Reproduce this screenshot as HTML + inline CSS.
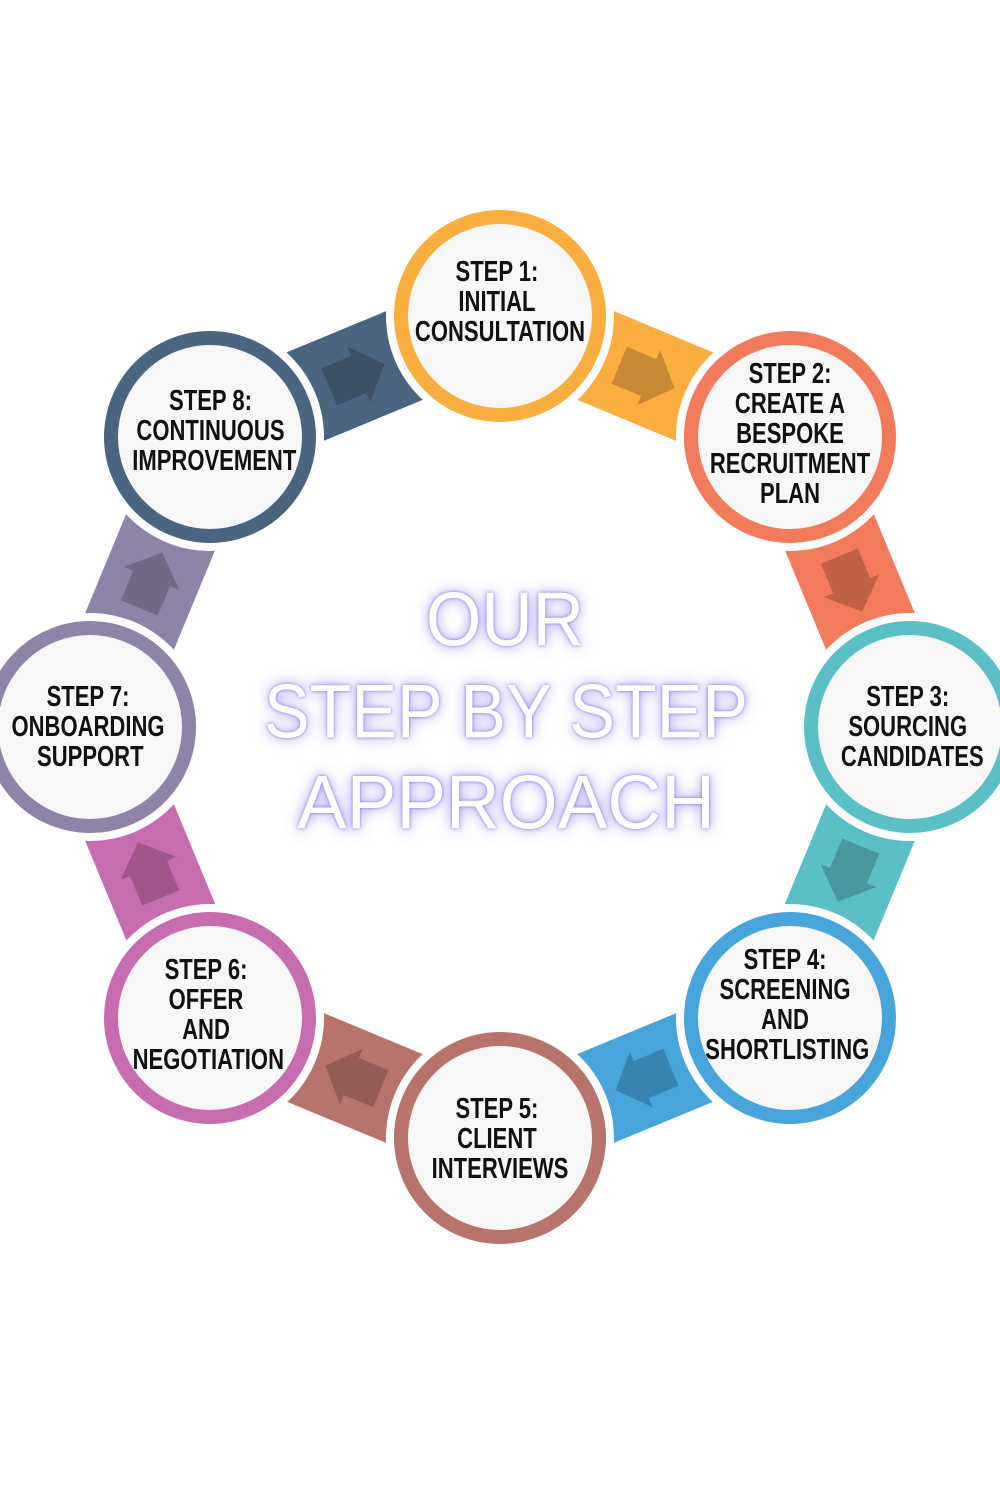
<!DOCTYPE html>
<html><head><meta charset="utf-8"><style>
html,body{margin:0;padding:0;background:#fff;width:1000px;height:1500px;overflow:hidden}
svg{display:block}
.t{font-family:"Liberation Sans",sans-serif;font-weight:bold;font-size:29px;fill:#111;text-anchor:middle;dominant-baseline:central}
.h{font-family:"Liberation Sans","DejaVu Sans",sans-serif;font-weight:normal;font-size:76px;fill:#fff;text-anchor:middle;dominant-baseline:central}
</style></head><body>
<svg width="1000" height="1500" viewBox="0 0 1000 1500" xmlns="http://www.w3.org/2000/svg">
<defs>
<filter id="glow" x="-20%" y="-40%" width="140%" height="180%">
<feGaussianBlur in="SourceAlpha" stdDeviation="7" result="b"/>
<feFlood flood-color="#7b6cf0" flood-opacity="0.75"/>
<feComposite in2="b" operator="in" result="g"/>
<feGaussianBlur in="SourceAlpha" stdDeviation="1.5" result="b2"/>
<feFlood flood-color="#6a5ae8" flood-opacity="0.9"/>
<feComposite in2="b2" operator="in" result="g2"/>
<feMerge><feMergeNode in="g"/><feMergeNode in="g2"/><feMergeNode in="SourceGraphic"/></feMerge>
</filter>
<g id="arr"><polygon points="-28,-20 4,-20 4,-30 32,0 4,30 4,20 -28,20" fill="#000" fill-opacity="0.2"/></g>
</defs>

<g transform="translate(645,376) rotate(22.6)"><rect x="-150" y="-48" width="300" height="96" fill="#FBAE40"/><use href="#arr"/></g>
<g transform="translate(850,582) rotate(67.5)"><rect x="-150" y="-48" width="300" height="96" fill="#F27B5B"/><use href="#arr"/></g>
<g transform="translate(850,872) rotate(112.5)"><rect x="-150" y="-48" width="300" height="96" fill="#5BBFC6"/><use href="#arr"/></g>
<g transform="translate(645,1078) rotate(157.5)"><rect x="-150" y="-48" width="300" height="96" fill="#47A5DC"/><use href="#arr"/></g>
<g transform="translate(355,1078) rotate(202.5)"><rect x="-150" y="-48" width="300" height="96" fill="#B8736D"/><use href="#arr"/></g>
<g transform="translate(150,872) rotate(247.5)"><rect x="-150" y="-48" width="300" height="96" fill="#C76CAE"/><use href="#arr"/></g>
<g transform="translate(150,582) rotate(292.5)"><rect x="-150" y="-48" width="300" height="96" fill="#8E84A8"/><use href="#arr"/></g>
<g transform="translate(355,376) rotate(337.5)"><rect x="-150" y="-48" width="300" height="96" fill="#4B6480"/><use href="#arr"/></g>

<g stroke-width="14">
<circle cx="500" cy="316" r="114" fill="#fff" stroke="none"/><circle cx="500" cy="316" r="99" fill="#f7f7f7" stroke="#FBAE40"/>
<circle cx="790" cy="437" r="114" fill="#fff" stroke="none"/><circle cx="790" cy="437" r="99" fill="#f7f7f7" stroke="#F27B5B"/>
<circle cx="910" cy="727" r="114" fill="#fff" stroke="none"/><circle cx="910" cy="727" r="99" fill="#f7f7f7" stroke="#5BBFC6"/>
<circle cx="790" cy="1018" r="114" fill="#fff" stroke="none"/><circle cx="790" cy="1018" r="99" fill="#f7f7f7" stroke="#47A5DC"/>
<circle cx="500" cy="1138" r="114" fill="#fff" stroke="none"/><circle cx="500" cy="1138" r="99" fill="#f7f7f7" stroke="#B8736D"/>
<circle cx="210" cy="1018" r="114" fill="#fff" stroke="none"/><circle cx="210" cy="1018" r="99" fill="#f7f7f7" stroke="#C76CAE"/>
<circle cx="90" cy="727" r="114" fill="#fff" stroke="none"/><circle cx="90" cy="727" r="99" fill="#f7f7f7" stroke="#8E84A8"/>
<circle cx="210" cy="437" r="114" fill="#fff" stroke="none"/><circle cx="210" cy="437" r="99" fill="#f7f7f7" stroke="#4B6480"/>
</g>

<g transform="translate(500,0) scale(0.76,1)"><text class="t" x="-4" y="272">STEP 1:</text><text class="t" x="-4" y="302">INITIAL</text><text class="t" x="0" y="332">CONSULTATION</text></g>
<g transform="translate(790,0) scale(0.76,1)"><text class="t" x="0" y="374">STEP 2:</text><text class="t" x="0" y="404">CREATE A</text><text class="t" x="0" y="434">BESPOKE</text><text class="t" x="0" y="464">RECRUITMENT</text><text class="t" x="0" y="494">PLAN</text></g>
<g transform="translate(910,0) scale(0.76,1)"><text class="t" x="-3" y="697">STEP 3:</text><text class="t" x="-3" y="727">SOURCING</text><text class="t" x="3" y="757">CANDIDATES</text></g>
<g transform="translate(785,0) scale(0.76,1)"><text class="t" x="0" y="960">STEP 4:</text><text class="t" x="0" y="990">SCREENING</text><text class="t" x="0" y="1020">AND</text><text class="t" x="3" y="1050">SHORTLISTING</text></g>
<g transform="translate(500,0) scale(0.76,1)"><text class="t" x="-4" y="1109">STEP 5:</text><text class="t" x="-4" y="1139">CLIENT</text><text class="t" x="0" y="1169">INTERVIEWS</text></g>
<g transform="translate(206,0) scale(0.76,1)"><text class="t" x="0" y="970">STEP 6:</text><text class="t" x="0" y="1000">OFFER</text><text class="t" x="0" y="1030">AND</text><text class="t" x="3" y="1060">NEGOTIATION</text></g>
<g transform="translate(88,0) scale(0.76,1)"><text class="t" x="0" y="697">STEP 7:</text><text class="t" x="0" y="727">ONBOARDING</text><text class="t" x="3" y="757">SUPPORT</text></g>
<g transform="translate(212,0) scale(0.76,1)"><text class="t" x="-2" y="401">STEP 8:</text><text class="t" x="-2" y="431">CONTINUOUS</text><text class="t" x="3" y="461">IMPROVEMENT</text></g>

<g filter="url(#glow)">
<text class="h" x="505" y="620" textLength="158" lengthAdjust="spacingAndGlyphs">OUR</text>
<text class="h" x="506" y="712" textLength="484" lengthAdjust="spacingAndGlyphs">STEP BY STEP</text>
<text class="h" x="506" y="803" textLength="418" lengthAdjust="spacingAndGlyphs">APPROACH</text>
</g>
</svg>
</body></html>
